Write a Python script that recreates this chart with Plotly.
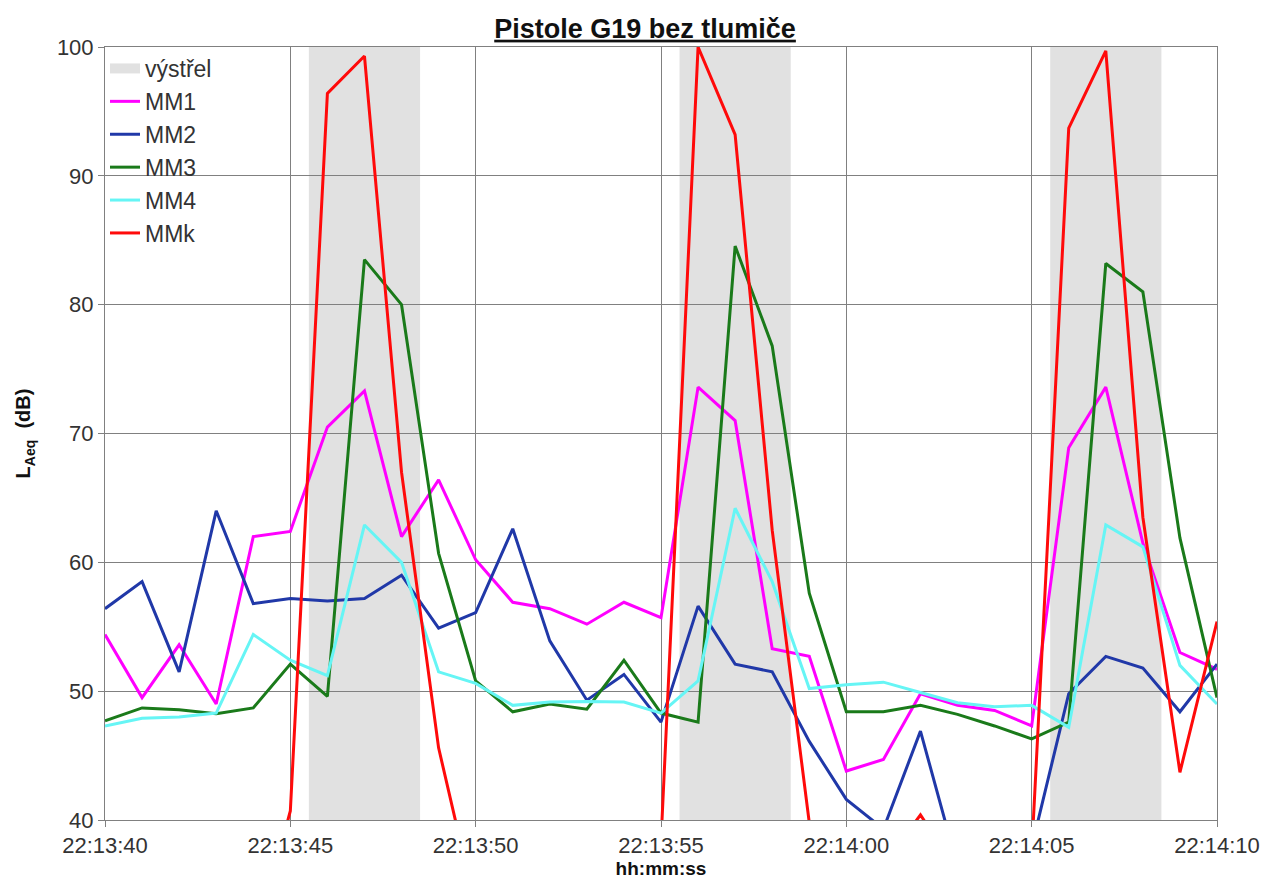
import pandas as pd
import plotly.graph_objects as go

# ---- data -------------------------------------------------------------
times = pd.date_range("2024-01-01 22:13:40", "2024-01-01 22:14:10", freq="1s")

mm1 = [54.4, 49.5, 53.6, 49.0, 62.0, 62.4, 70.5, 73.3, 62.0, 66.4, 60.2,
       56.9, 56.4, 55.2, 56.9, 55.7, 73.6, 71.0, 53.3, 52.7, 43.8, 44.7,
       49.8, 48.9, 48.5, 47.3, 68.9, 73.6, 61.5, 53.0, 51.7]
mm2 = [56.4, 58.5, 51.5, 64.0, 56.8, 57.2, 57.0, 57.2, 59.0, 54.9, 56.1,
       62.6, 53.9, 49.3, 51.3, 47.6, 56.6, 52.1, 51.5, 46.1, 41.6, 39.3,
       46.9, 36.4, 37.0, 37.9, 49.8, 52.7, 51.8, 48.4, 52.1]
mm3 = [47.7, 48.7, 48.55, 48.25, 48.7, 52.1, 49.6, 83.5, 80.0, 60.7, 50.8,
       48.4, 49.0, 48.6, 52.4, 48.3, 47.6, 84.55, 76.8, 57.6, 48.4, 48.4,
       48.9, 48.2, 47.3, 46.3, 47.6, 83.2, 81.0, 61.9, 49.5]
mm4 = [47.3, 47.9, 48.0, 48.3, 54.4, 52.4, 51.2, 62.9, 60.0, 51.5, 50.6,
       48.9, 49.15, 49.2, 49.15, 48.3, 50.8, 64.2, 58.5, 50.2, 50.5, 50.7,
       49.9, 49.1, 48.8, 48.9, 47.2, 62.9, 61.2, 52.0, 49.0]
mmk = [35.0, 34.0, 36.0, 33.0, 30.0, 40.7, 96.4, 99.3, 67.0, 45.6, 33.2,
       35.0, 36.0, 34.0, 35.0, 38.3, 100.0, 93.2, 62.5, 39.8, 36.0, 36.5,
       40.4, 36.0, 35.0, 37.4, 93.7, 99.7, 63.5, 43.7, 55.4]

shot_start = ["2024-01-01 22:13:45.5", "2024-01-01 22:13:55.5", "2024-01-01 22:14:05.5"]
shot_end = ["2024-01-01 22:13:48.5", "2024-01-01 22:13:58.5", "2024-01-01 22:14:08.5"]

series_names = ["MM1", "MM2", "MM3", "MM4", "MMk"]
series_vals = [mm1, mm2, mm3, mm4, mmk]
series_colors = ["#ff00ff", "#2038a8", "#1a7a1a", "#66f5f5", "#ff0a0a"]

y_ticks = [40, 50, 60, 70, 80, 90, 100]

# ---- figure -----------------------------------------------------------
fig = go.Figure()

# legend entry for the shot periods
fig.add_trace(go.Scatter(x=[None], y=[None], mode="lines", name="výstřel",
                         line=dict(color="#e1e1e1", width=11)))

for name, vals, col in zip(series_names, series_vals, series_colors):
    fig.add_trace(go.Scatter(x=times, y=vals, mode="lines", name=name,
                             line=dict(color=col, width=3), cliponaxis=True))

for s, e in zip(shot_start, shot_end):
    fig.add_shape(type="rect", xref="x", yref="y", x0=s, x1=e, y0=40, y1=100,
                  fillcolor="#e1e1e1", line=dict(width=0), layer="below")

fig.update_layout(
    width=1264, height=880,
    paper_bgcolor="white", plot_bgcolor="rgba(0,0,0,0)",
    margin=dict(l=97, r=43, t=39, b=63),
    font=dict(family="Liberation Sans, Arial, sans-serif", color="#222"),
    title=dict(text="<b><u>Pistole G19 bez tlumiče</u></b>",
               x=0.504, xanchor="center", y=0.977, yanchor="middle",
               font=dict(size=27, color="#111")),
    legend=dict(x=0.0, y=1.0, xanchor="left", yanchor="top",
                bgcolor="rgba(0,0,0,0)", font=dict(size=23, color="#333"),
                tracegroupgap=0),
    showlegend=True,
)

fig.update_xaxes(
    type="date",
    range=["2024-01-01 22:13:40", "2024-01-01 22:14:10"],
    dtick=5000, tick0="2024-01-01 22:13:40", tickformat="%H:%M:%S",
    showgrid=True, gridcolor="#808080", gridwidth=1,
    showline=True, linecolor="#808080", linewidth=1, mirror=True,
    ticks="outside", ticklen=6, tickcolor="#808080",
    tickfont=dict(size=22, color="#333"),
    title=dict(text="<b>hh:mm:ss</b>", font=dict(size=19, color="#111"), standoff=4),
    zeroline=False,
)
fig.update_yaxes(
    range=[40, 100], tickvals=y_ticks,
    showgrid=True, gridcolor="#808080", gridwidth=1,
    showline=True, linecolor="#808080", linewidth=1, mirror=True,
    ticks="outside", ticklen=6, tickcolor="#808080",
    tickfont=dict(size=22, color="#333"),
    title=dict(text="<b>L<sub>Aeq</sub>  (dB)</b>", font=dict(size=20, color="#111"), standoff=20),
    zeroline=False,
)

fig.write_html("out.html")
